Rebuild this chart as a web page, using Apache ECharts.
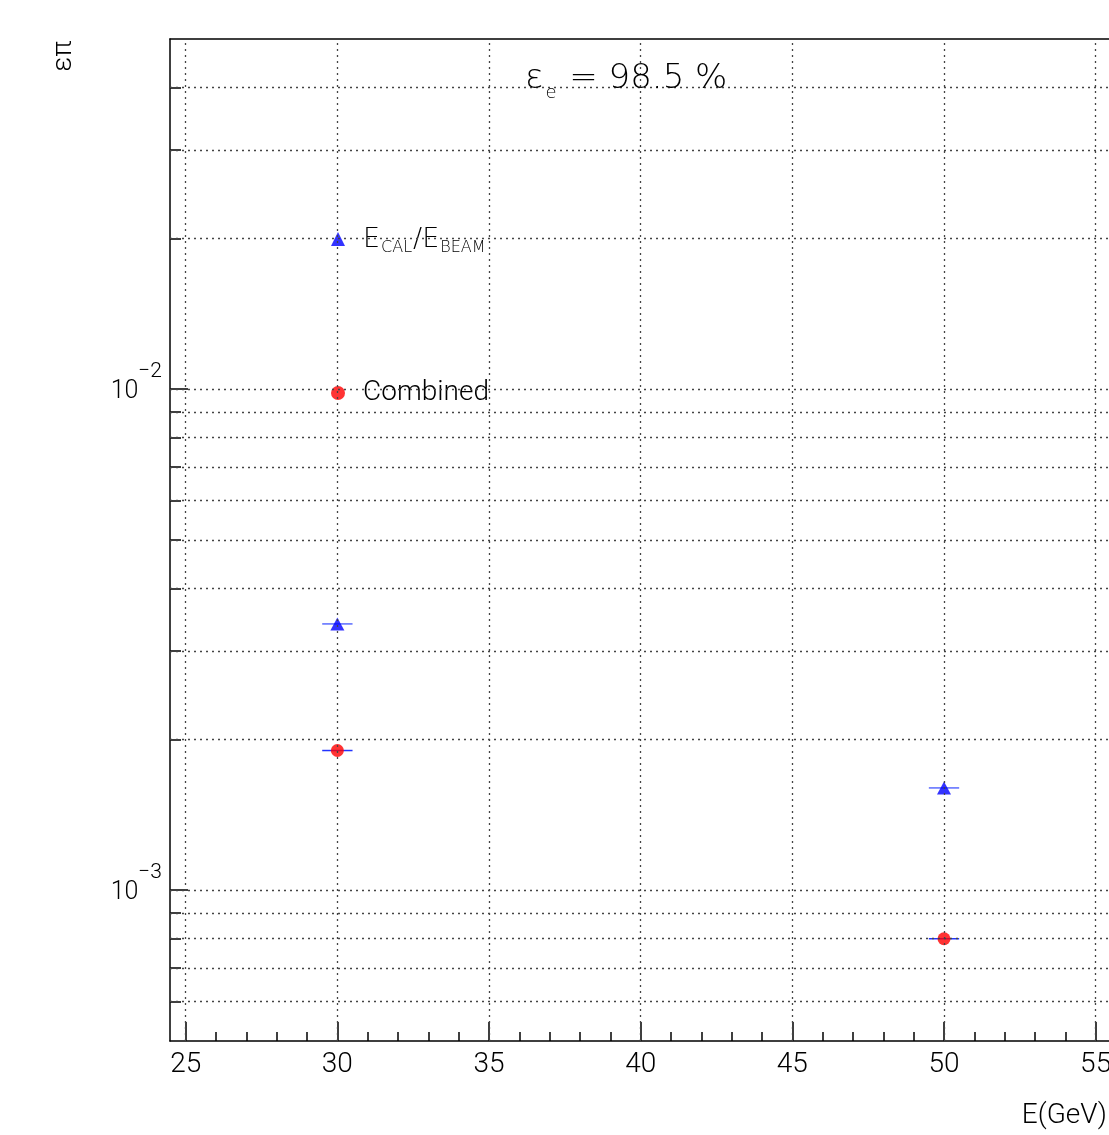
<!DOCTYPE html>
<html>
<head>
<meta charset="utf-8">
<script src="https://cdn.jsdelivr.net/npm/echarts@6/dist/echarts.min.js"></script>
<style>
html,body{margin:0;padding:0;background:#fff;overflow:hidden;}
#chart{width:1109px;height:1135px;}
</style>
</head>
<body>
<div id="chart"></div>
<script>
// ---- data ----
const energies = [30, 50];
const ecalRatio = [0.0034, 0.0016];
const combined = [0.0019, 0.0008];
const energyErr = [0.5, 0.5];
const seriesNames = ['E_CAL/E_BEAM', 'Combined'];

// ---- axes / ticks ----
const X_MIN = 24.482, X_MAX = 55.44;
const Y_MIN = 5e-4, Y_MAX = 5e-2;
const X_MAJOR = [25, 30, 35, 40, 45, 50, 55];
const X_MINOR = [25,26,27,28,29,30,31,32,33,34,35,36,37,38,39,40,41,42,43,44,45,46,47,48,49,50,51,52,53,54,55];
const Y_GRID = [6e-4,7e-4,8e-4,9e-4,1e-3,2e-3,3e-3,4e-3,5e-3,6e-3,7e-3,8e-3,9e-3,1e-2,2e-2,3e-2,4e-2];
const Y_MAJOR = [1e-3, 1e-2];

const FONT = 'Roboto';
const FW = 300;
const DJ = 'DejaVu Sans';
const DJW = 200;
const black = {color: '#000', width: 1.5};
const gridDot = {color: '#444', width: 1.3, type: [2, 4]};

const chart = echarts.init(document.getElementById('chart'));

function errRender(params, api) {
  const x = api.value(0), y = api.value(1), e = api.value(2);
  const p1 = api.coord([x - e, y]);
  const p2 = api.coord([x + e, y]);
  return {type: 'line', shape: {x1: p1[0], y1: p1[1], x2: p2[0], y2: p2[1]},
          style: {stroke: api.value(3) === 0 ? '#5a6bff' : '#2233ff', lineWidth: 1.5}};
}

const option = {
  backgroundColor: '#fff',
  animation: false,
  textStyle: {fontFamily: FONT, fontWeight: FW},
  grid: {left: 170, top: 39, right: 0, bottom: 94, containLabel: false, outerBoundsMode: 'none'},
  title: {
    text: '{n|ε}{sub|e}{n| = 98.5 %}',
    left: 520, top: 55,
    textStyle: {
      rich: {
        n: {fontSize: 34, fontFamily: DJ, fontWeight: DJW, color: '#000', verticalAlign: 'bottom', lineHeight: 36},
        sub: {fontSize: 18, fontFamily: DJ, fontWeight: DJW, color: '#000', verticalAlign: 'bottom', lineHeight: 18, padding: [0, 2, -6, 2]}
      }
    }
  },
  legend: {
    data: seriesNames,
    orient: 'vertical',
    left: 331, top: 225,
    padding: 0,
    itemWidth: 14, itemHeight: 14,
    itemGap: 123,
    selectedMode: false,
    formatter: function (name) {
      if (name === 'E_CAL/E_BEAM') return '{a|E}{b|CAL}{c|/E}{b|BEAM}';
      return '{d|Combined}';
    },
    textStyle: {
      lineHeight: 28,
      rich: {
        a: {fontSize: 27, fontFamily: DJ, fontWeight: DJW, color: '#000', padding: [0, 0, 0, 13], verticalAlign: 'bottom', lineHeight: 28},
        c: {fontSize: 27, fontFamily: DJ, fontWeight: DJW, color: '#000', verticalAlign: 'bottom', lineHeight: 28},
        d: {fontSize: 28, fontFamily: FONT, fontWeight: FW, color: '#000', padding: [0, 0, 0, 13], verticalAlign: 'bottom', lineHeight: 28},
        b: {fontSize: 16, fontFamily: DJ, fontWeight: DJW, color: '#000', verticalAlign: 'bottom', lineHeight: 16, padding: [0, 1, -3, 1]}
      }
    }
  },
  xAxis: [
    {type: 'value', min: X_MIN, max: X_MAX, position: 'bottom',
     axisLine: {show: true, lineStyle: black},
     axisTick: {show: true, inside: true, length: 19, customValues: X_MAJOR, lineStyle: black},
     axisLabel: {show: true, customValues: X_MAJOR, fontSize: 28, color: '#000', margin: 10, fontFamily: FONT, fontWeight: FW, hideOverlap: false},
     splitLine: {show: false}},
    {type: 'value', min: X_MIN, max: X_MAX, position: 'bottom',
     axisLine: {show: false},
     axisTick: {show: true, inside: true, length: 9, customValues: X_MINOR, lineStyle: black},
     axisLabel: {show: false}, splitLine: {show: false}},
    {type: 'value', min: X_MIN, max: X_MAX, position: 'top',
     axisLine: {show: true, lineStyle: black},
     axisTick: {show: false}, axisLabel: {show: false}, splitLine: {show: false}}
  ],
  yAxis: [
    {type: 'log', logBase: 10, min: Y_MIN, max: Y_MAX, position: 'left',
     axisLine: {show: true, lineStyle: black},
     axisTick: {show: false}, minorTick: {show: false}, splitLine: {show: false},
     axisLabel: {
       show: true, margin: 8, padding: [6, 0, 0, 0],
       formatter: function (v) {
         const l = Math.log10(v);
         const e = Math.round(l);
         if (Math.abs(l - e) > 1e-6) return '';
         return '{b|10}{s|−' + (-e) + '}';
       },
       rich: {
         b: {fontSize: 25, fontFamily: FONT, fontWeight: FW, color: '#000', lineHeight: 25, verticalAlign: 'bottom'},
         s: {fontSize: 21, fontFamily: FONT, fontWeight: FW, color: '#000', lineHeight: 21, verticalAlign: 'bottom', padding: [0, 0, 22, 0]}
       }
     }},
    {type: 'value', min: Math.log10(Y_MIN), max: Math.log10(Y_MAX), position: 'left',
     axisLine: {show: false},
     axisTick: {show: true, inside: true, length: 11, customValues: Y_GRID.map(Math.log10), lineStyle: black},
     axisLabel: {show: false}, splitLine: {show: false}},
    {type: 'value', min: Math.log10(Y_MIN), max: Math.log10(Y_MAX), position: 'left',
     axisLine: {show: false},
     axisTick: {show: true, inside: true, length: 18, customValues: Y_MAJOR.map(Math.log10), lineStyle: black},
     axisLabel: {show: false}, splitLine: {show: false}}
  ],
  graphic: [
    {type: 'text', x: 64, y: 56, rotation: Math.PI / 2,
     style: {text: 'επ', font: '300 27px Roboto', fill: '#000', textAlign: 'center', textVerticalAlign: 'middle'}},
    {type: 'text', x: 1107, y: 1116,
     style: {text: 'E(GeV)', font: '300 28px Roboto', fill: '#000', textAlign: 'right', textVerticalAlign: 'middle'}}
  ],
  series: [
    {
      name: 'grid', type: 'scatter', xAxisIndex: 0, yAxisIndex: 0, data: [], z: 1, silent: true,
      markLine: {
        silent: true, symbol: 'none', animation: false, precision: 10,
        label: {show: false},
        lineStyle: gridDot,
        emphasis: {disabled: true},
        data: X_MAJOR.map(v => ({xAxis: v})).concat(Y_GRID.map(v => ({yAxis: v})))
      }
    },
    {
      name: 'errors', type: 'custom', xAxisIndex: 0, yAxisIndex: 0, z: 2, silent: true,
      renderItem: errRender,
      data: energies.map((x, i) => [x, ecalRatio[i], energyErr[i], 0])
        .concat(energies.map((x, i) => [x, combined[i], energyErr[i], 1]))
    },
    {
      name: seriesNames[0], type: 'scatter', xAxisIndex: 0, yAxisIndex: 0, z: 3,
      symbol: 'triangle', symbolSize: [14, 13],
      itemStyle: {color: '#0000ff'},
      data: energies.map((x, i) => [x, ecalRatio[i]])
    },
    {
      name: seriesNames[1], type: 'scatter', xAxisIndex: 0, yAxisIndex: 0, z: 3,
      symbol: 'circle', symbolSize: 13,
      itemStyle: {color: '#ff0000'},
      data: energies.map((x, i) => [x, combined[i]])
    }
  ]
};
chart.setOption(option);
</script>
</body>
</html>
